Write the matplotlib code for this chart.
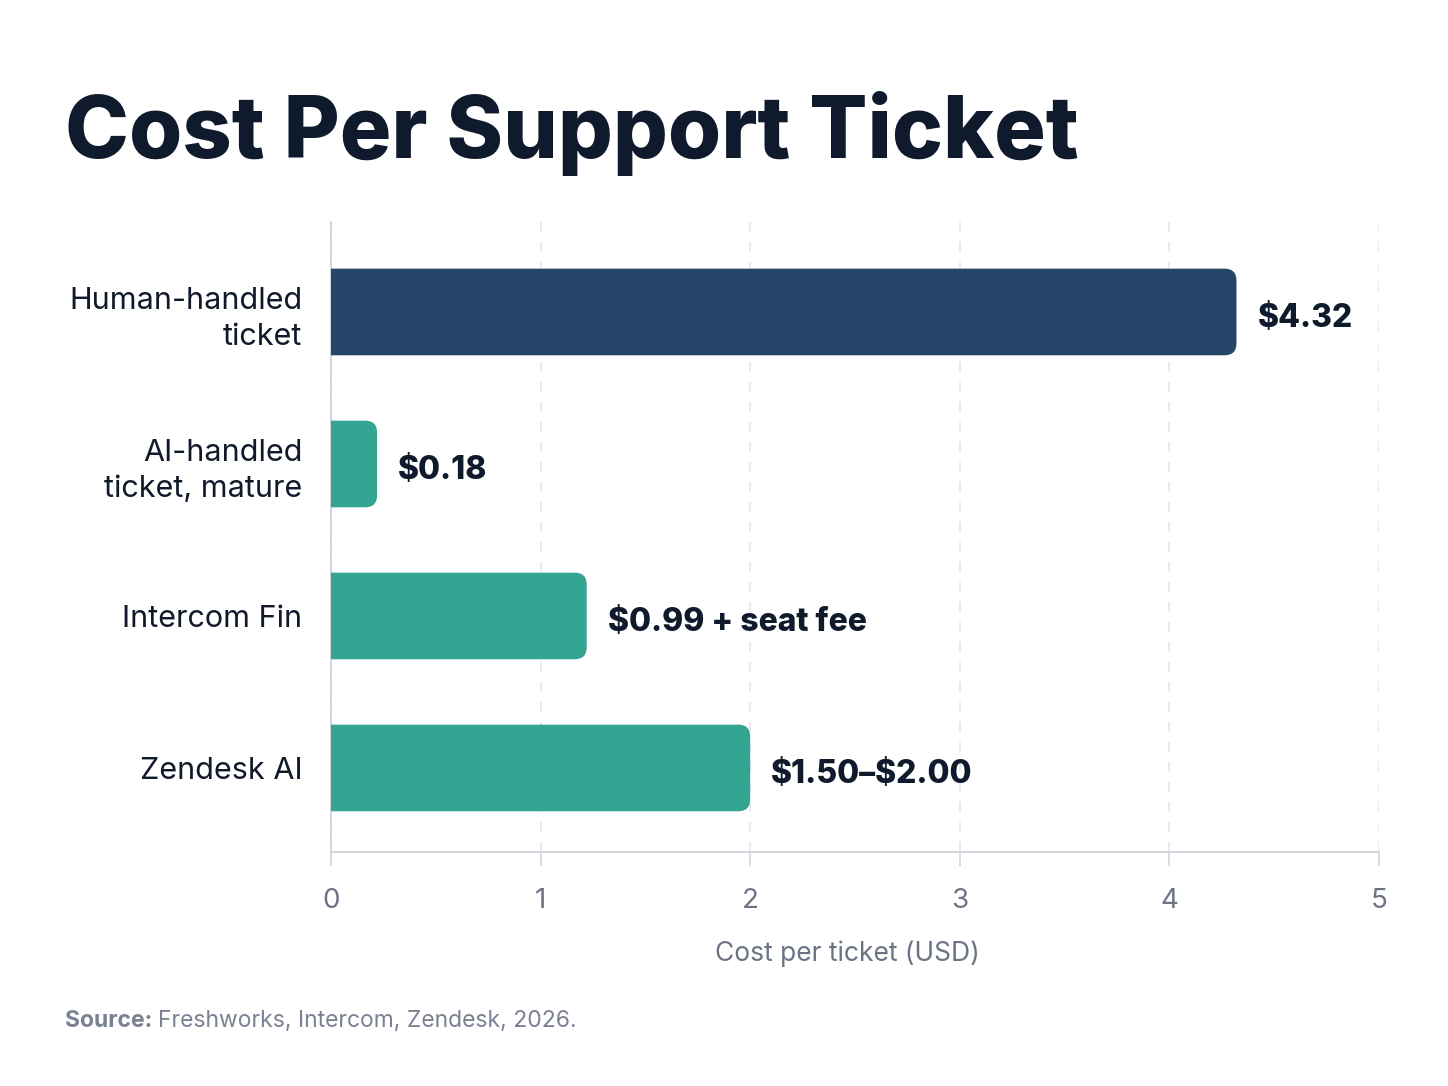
import numpy as np
import matplotlib
matplotlib.use("Agg")
from matplotlib import pyplot as plt
from matplotlib.path import Path
from matplotlib.patches import PathPatch

# chart data
categories = ["Human-handled\nticket", "AI-handled\nticket, mature", "Intercom Fin", "Zendesk AI"]
bar_values = [4.32, 0.22, 1.22, 2.00]   # bar lengths as drawn
value_labels = ["\\$4.32", "\\$0.18", "\\$0.99 + seat fee", "\\$1.50\u2013\\$2.00"]
bar_colors = ["#254668", "#34a592", "#34a592", "#34a592"]
x_ticks = [0, 1, 2, 3, 4, 5]

plt.rcParams['font.family'] = ['Inter', 'DejaVu Sans']

fig = plt.figure(figsize=(14.48, 10.86), dpi=100)
ax = fig.add_axes([331/1448, 1 - 852/1086, (1379-331)/1448, (852-222)/1086])

ax.set_xlim(0, 5)
ax.set_ylim(3.553, -0.592)

bar_h = 0.57
px_per_x = (1379 - 331) / 5
px_per_y = (852 - 222) / (3.553 + 0.592)
rx = 12 / px_per_x
ry = 12 / px_per_y


def right_rounded_bar(w, yc, h):
    # bar with square left end and rounded right corners
    y0, y1 = yc - h/2, yc + h/2
    verts = [(0, y0), (w - rx, y0), (w, y0), (w, y0 + ry),
             (w, y1 - ry), (w, y1), (w - rx, y1), (0, y1), (0, y0)]
    codes = [Path.MOVETO, Path.LINETO, Path.CURVE3, Path.CURVE3,
             Path.LINETO, Path.CURVE3, Path.CURVE3, Path.LINETO, Path.CLOSEPOLY]
    return Path(verts, codes)


for i, (v, c) in enumerate(zip(bar_values, bar_colors)):
    ax.add_patch(PathPatch(right_rounded_bar(v, i, bar_h), fc=c, ec="none", zorder=3))
    ax.text(v + 0.1, i + 0.02, value_labels[i], va="center_baseline", ha="left",
            fontsize=23, fontweight=800, color="#0f1a2c", zorder=4)

ax.set_yticks(range(len(categories)))
ax.set_yticklabels(categories, fontsize=22, color="#111a2b", linespacing=1.35)
ax.tick_params(axis="y", length=0, pad=29)
for lab in ax.get_yticklabels():
    lab.set_x(0.011)

ax.set_xticks(x_ticks)
ax.set_xticklabels([str(t) for t in x_ticks], fontsize=20, color="#6b7385")
ax.tick_params(axis="x", length=10, color="#d3d7e0", width=1.2, pad=16)

ax.grid(axis="x", linestyle=(0, (6, 6)), color="#e3e6ec", linewidth=1.2, zorder=0)
for s in ["top", "right"]:
    ax.spines[s].set_visible(False)
for s in ["left", "bottom"]:
    ax.spines[s].set_color("#cfd4de")
    ax.spines[s].set_linewidth(1.4)

ax.set_xlabel("Cost per ticket (USD)", fontsize=19, color="#6b7385", labelpad=18)
ax.xaxis.set_label_coords(0.493, -0.14)

fig.text(65/1448, 1 - 134/1086, "Cost Per Support Ticket", fontsize=62,
         fontweight=800, color="#0f1a2c", va="center", ha="left")

fig.text(65/1448, 1 - 1021/1086, "Source:", fontsize=16.5, fontweight="bold",
         color="#7a8192", va="center", ha="left")
fig.text(158/1448, 1 - 1021/1086, "Freshworks, Intercom, Zendesk, 2026.", fontsize=16.5,
         color="#7a8192", va="center", ha="left")

fig.savefig("out.png", dpi=100, facecolor="white")
